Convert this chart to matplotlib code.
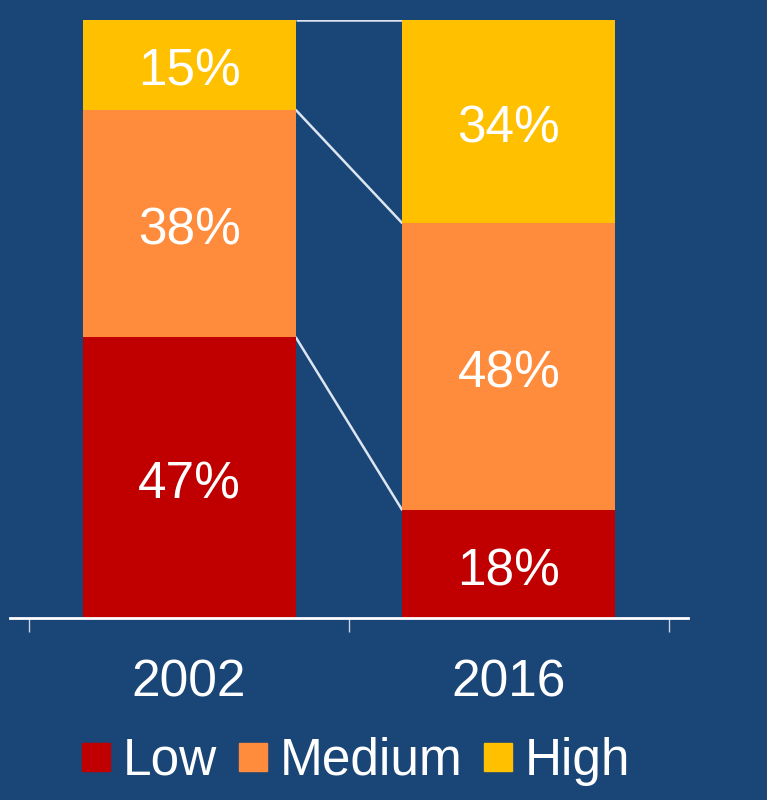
import numpy as np
import matplotlib.pyplot as plt
from matplotlib.lines import Line2D

years = ["2002", "2016"]
levels = ["Low", "Medium", "High"]
low = [47, 18]
medium = [38, 48]
high = [15, 34]

colors = {"Low": "#C00000", "Medium": "#FF8C3C", "High": "#FFC000"}
bg = "#1A4577"

plt.rcParams["font.family"] = ["Liberation Sans", "DejaVu Sans"]

fig = plt.figure(figsize=(7.67, 8.0), dpi=100, facecolor=bg)
ax = fig.add_axes([0.013, 0.2275, 0.884, 0.7475])
ax.set_facecolor(bg)

x = np.arange(len(years))
width = 0.666
series = {"Low": low, "Medium": medium, "High": high}
bottom = np.zeros(len(years))
tops = {}
for name in levels:
    vals = np.array(series[name], dtype=float)
    ax.bar(x, vals, width, bottom=bottom, color=colors[name], zorder=2)
    for xi, v, b in zip(x, vals, bottom):
        ax.annotate(f"{v:.0f}%", (xi, b + v / 2), xytext=(0, -15),
                    textcoords="offset points", ha="center", va="baseline",
                    color="white", fontsize=37, zorder=3)
    bottom = bottom + vals
    tops[name] = bottom.copy()

# connector lines between segment tops of neighbouring bars
for name in levels:
    ax.plot([x[0] + width / 2, x[1] - width / 2],
            [tops[name][0], tops[name][1]],
            color="#DDE6F0", lw=1.8, zorder=1, solid_capstyle="butt")

ax.set_xlim(-0.56, 1.56)
ax.set_ylim(0, 100)
for s in ["top", "left", "right"]:
    ax.spines[s].set_visible(False)
ax.spines["bottom"].set_color("white")
ax.spines["bottom"].set_linewidth(2)
ax.set_yticks([])

ax.set_xticks(x)
ax.set_xticklabels(years)
ax.tick_params(axis="x", which="major", length=0, pad=29, labelsize=37,
               labelcolor="white")
ax.set_xticks([-0.5, 0.5, 1.5], minor=True)
ax.tick_params(axis="x", which="minor", length=10, width=1, color="#C8D2DE",
               direction="out")

handles = [Line2D([], [], marker="s", linestyle="none", markersize=20,
                  markerfacecolor=colors[n], markeredgecolor=colors[n])
           for n in levels]
fig.legend(handles, levels, loc="center", bbox_to_anchor=(356 / 767, 1 - 761 / 800),
           ncol=3, frameon=False, fontsize=37, labelcolor="white",
           handlelength=0.55, handletextpad=0.24, columnspacing=0.43,
           borderpad=0)

fig.savefig("out.png", dpi=100, facecolor=bg)
